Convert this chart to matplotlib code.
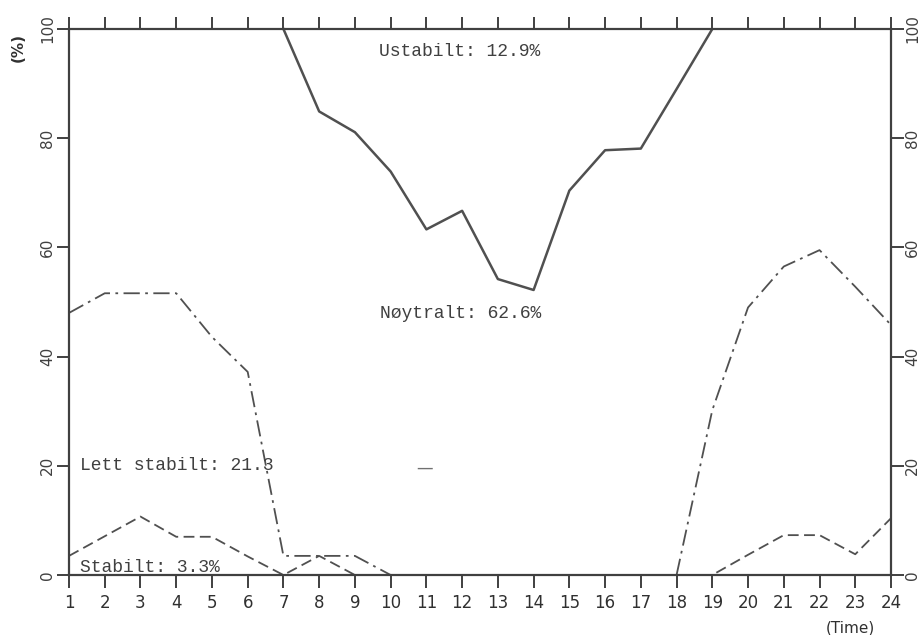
import matplotlib
matplotlib.use("Agg")
import matplotlib.pyplot as plt

hours = list(range(1, 25))
tick_labels = [str(h) for h in hours]

# Neutral/unstable boundary (solid), hours 7..19
neutral_hours = [7, 8, 9, 10, 11, 12, 13, 14, 15, 16, 17, 18, 19]
neutral_top = [100, 84.9, 81.1, 73.9, 63.3, 66.7, 54.2, 52.2, 70.4, 77.8, 78.1, 89.0, 100]

# Lett stabilt upper boundary (dash-dot)
light_stable = [48.0, 51.6, 51.6, 51.6, 43.6, 37.2, 3.5, 3.5, 3.5, 0, 0, 0,
                0, 0, 0, 0, 0, 0, 30.2, 49.0, 56.5, 59.5, 52.8, 45.8]

# Stabilt (dashed)
stable = [3.5, 7.1, 10.7, 7.0, 7.0, 3.4, 0, 3.5, 0, 0, 0, 0,
          0, 0, 0, 0, 0, 0, 0, 3.7, 7.3, 7.3, 3.8, 10.4]

labels = ["Ustabilt: 12.9%", "Nøytralt: 62.6%", "Lett stabilt: 21.3", "Stabilt: 3.3%"]

col = "#505050"
fig = plt.figure(figsize=(9.23, 6.35), dpi=100)
ax = fig.add_axes([69/923, 60/635, 822/923, 546/635])

ax.plot(neutral_hours, neutral_top, color=col, lw=1.8, clip_on=False)
ax.plot(hours, light_stable, color=col, lw=1.3, dashes=(9, 3, 1.5, 3), clip_on=False)
ax.plot(hours, stable, color=col, lw=1.3, dashes=(6, 3), clip_on=False)

ax.set_xlim(1, 24)
ax.set_ylim(0, 100)

for s in ax.spines.values():
    s.set_color("#404040")
    s.set_linewidth(1.6)

ax.set_xticks(hours)
ax.set_xticklabels(tick_labels)
ax.set_yticks([0, 20, 40, 60, 80, 100])
ax.tick_params(axis="x", direction="out", length=9, width=1.4, colors="#404040",
               top=True, bottom=True, labelsize=12, pad=5)
ax.tick_params(axis="y", direction="out", length=9, width=1.4, colors="#404040",
               left=True, right=True, labelleft=True, labelright=True,
               labelsize=11, pad=1)
for t in ax.yaxis.get_major_ticks():
    t.label1.set_rotation(90)
    t.label1.set_va("center")
    t.label2.set_rotation(90)
    t.label2.set_va("center")
for lab in ax.get_xticklabels():
    lab.set_color("#303030")

mono = "Liberation Mono"
tcol = "#404040"
ax.text(9.67, 95.9, labels[0], family=mono, fontsize=13, color=tcol, va="center", ha="left")
ax.text(9.70, 47.9, labels[1], family=mono, fontsize=13, color=tcol, va="center", ha="left")
ax.text(1.31, 20.1, labels[2], family=mono, fontsize=13, color=tcol, va="center", ha="left")
ax.text(1.31, 1.4, labels[3], family=mono, fontsize=13, color=tcol, va="center", ha="left")
ax.text(10.95, 19.7, "—", family="DejaVu Sans", fontsize=12, color="#707070", va="center", ha="center")

fig.text(18/923, 1 - 48/635, "(%)", rotation=90, fontsize=11, color="#303030",
         ha="center", va="center", fontweight="bold")
fig.text(850/923, 1 - 628/635, "(Time)", fontsize=11, color="#303030",
         ha="center", va="center")

fig.savefig("out.png", dpi=100)
